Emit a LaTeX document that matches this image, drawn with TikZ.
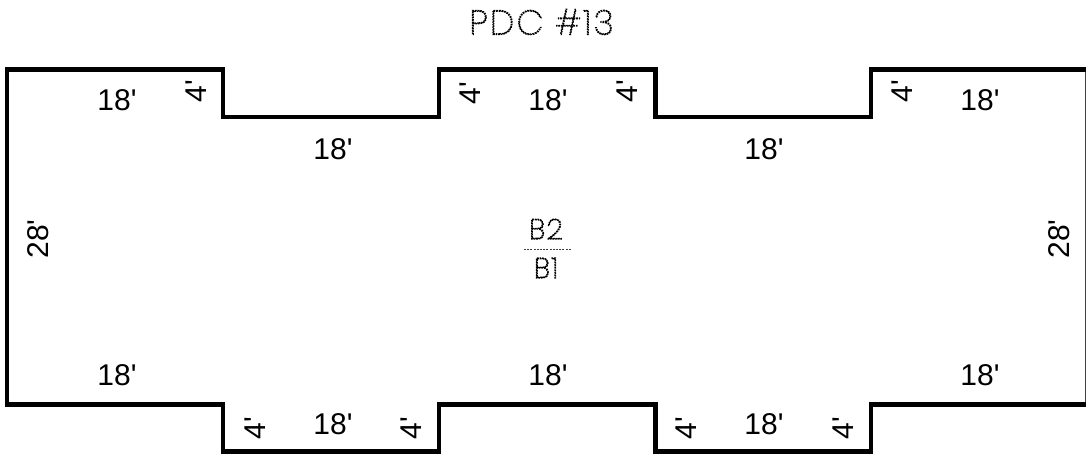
\documentclass[tikz,border=0pt]{standalone}
\usepackage{fontspec}
\setmainfont{Liberation Sans}
\newfontfamily\stick{Poppins Thin}[LetterSpace=8]
\newfontfamily\sticksmall{Poppins Thin}[LetterSpace=6]
\newcommand{\ft}{\textquotesingle}
\newcommand{\dotted}[1]{\special{pdf:code q 1 Tr 1.3 w [1.6 1.0] 0 d}#1\special{pdf:code Q}}
\tikzset{
 outline/.style={line width=4.4pt,line join=miter,line cap=butt,black},
 edge/.style={line width=0.8pt,black!75},
 dim/.style={font=\fontsize{30pt}{32pt}\selectfont,inner sep=0pt,text=black},
 dimv/.style={dim,rotate=90},
 titletext/.style={font=\stick\fontsize{34pt}{36pt}\selectfont,inner sep=0pt,text=black},
 faint/.style={font=\sticksmall\fontsize{28pt}{30pt}\selectfont,inner sep=0pt,text=black},
 leader/.style={black!75,line width=0.8pt,dash pattern=on 2pt off 1.2pt},
}
\begin{document}
\begin{tikzpicture}[x=1pt,y=-1pt]
\useasboundingbox (0,0) rectangle (1086,454);
\coordinate (r1) at (1085.3,69);
\coordinate (r2) at (1085.3,405);
\draw[edge] (r1) -- (r2);
\draw[outline] (1086,69.5) -- (871,69.5) -- (871,117) -- (655.5,117) -- (655.5,69.5) -- (439,69.5) -- (439,117) -- (223,117) -- (223,69.5) -- (7,69.5) -- (7,404.5) -- (223,404.5) -- (223,451.5) -- (439,451.5) -- (439,404.5) -- (655.5,404.5) -- (655.5,451.5) -- (871,451.5) -- (871,404.5) -- (1086,404.5);
\node[titletext] (title) at (541.5,22) {\dotted{PDC \#13}};
\node[faint] (b2) at (546,229) {\dotted{B2}};
\node[faint] (b1) at (546,268) {\dotted{B1}};
\coordinate (l1) at (524,249);
\coordinate (l2) at (571,249);
\draw[leader] (l1) -- (l2);
\node[dim] (t1) at (117,100) {18\ft};
\node[dim] (t2) at (548,100) {18\ft};
\node[dim] (t3) at (980,100) {18\ft};
\node[dim] (t4) at (333,149) {18\ft};
\node[dim] (t5) at (764,149) {18\ft};
\node[dim] (b3) at (117,375) {18\ft};
\node[dim] (b4) at (548,375) {18\ft};
\node[dim] (b5) at (980,375) {18\ft};
\node[dim] (b6) at (333,424) {18\ft};
\node[dim] (b7) at (764,424) {18\ft};
\node[dimv] (s1) at (38,239) {28\ft};
\node[dimv] (s2) at (1059,239) {28\ft};
\node[dimv] (f1) at (196,91) {4\ft};
\node[dimv] (f2) at (470,93) {4\ft};
\node[dimv] (f3) at (627,91) {4\ft};
\node[dimv] (f4) at (902,91) {4\ft};
\node[dimv] (f5) at (255,428) {4\ft};
\node[dimv] (f6) at (411,428) {4\ft};
\node[dimv] (f7) at (686,428) {4\ft};
\node[dimv] (f8) at (843,428) {4\ft};
\end{tikzpicture}
\end{document}
